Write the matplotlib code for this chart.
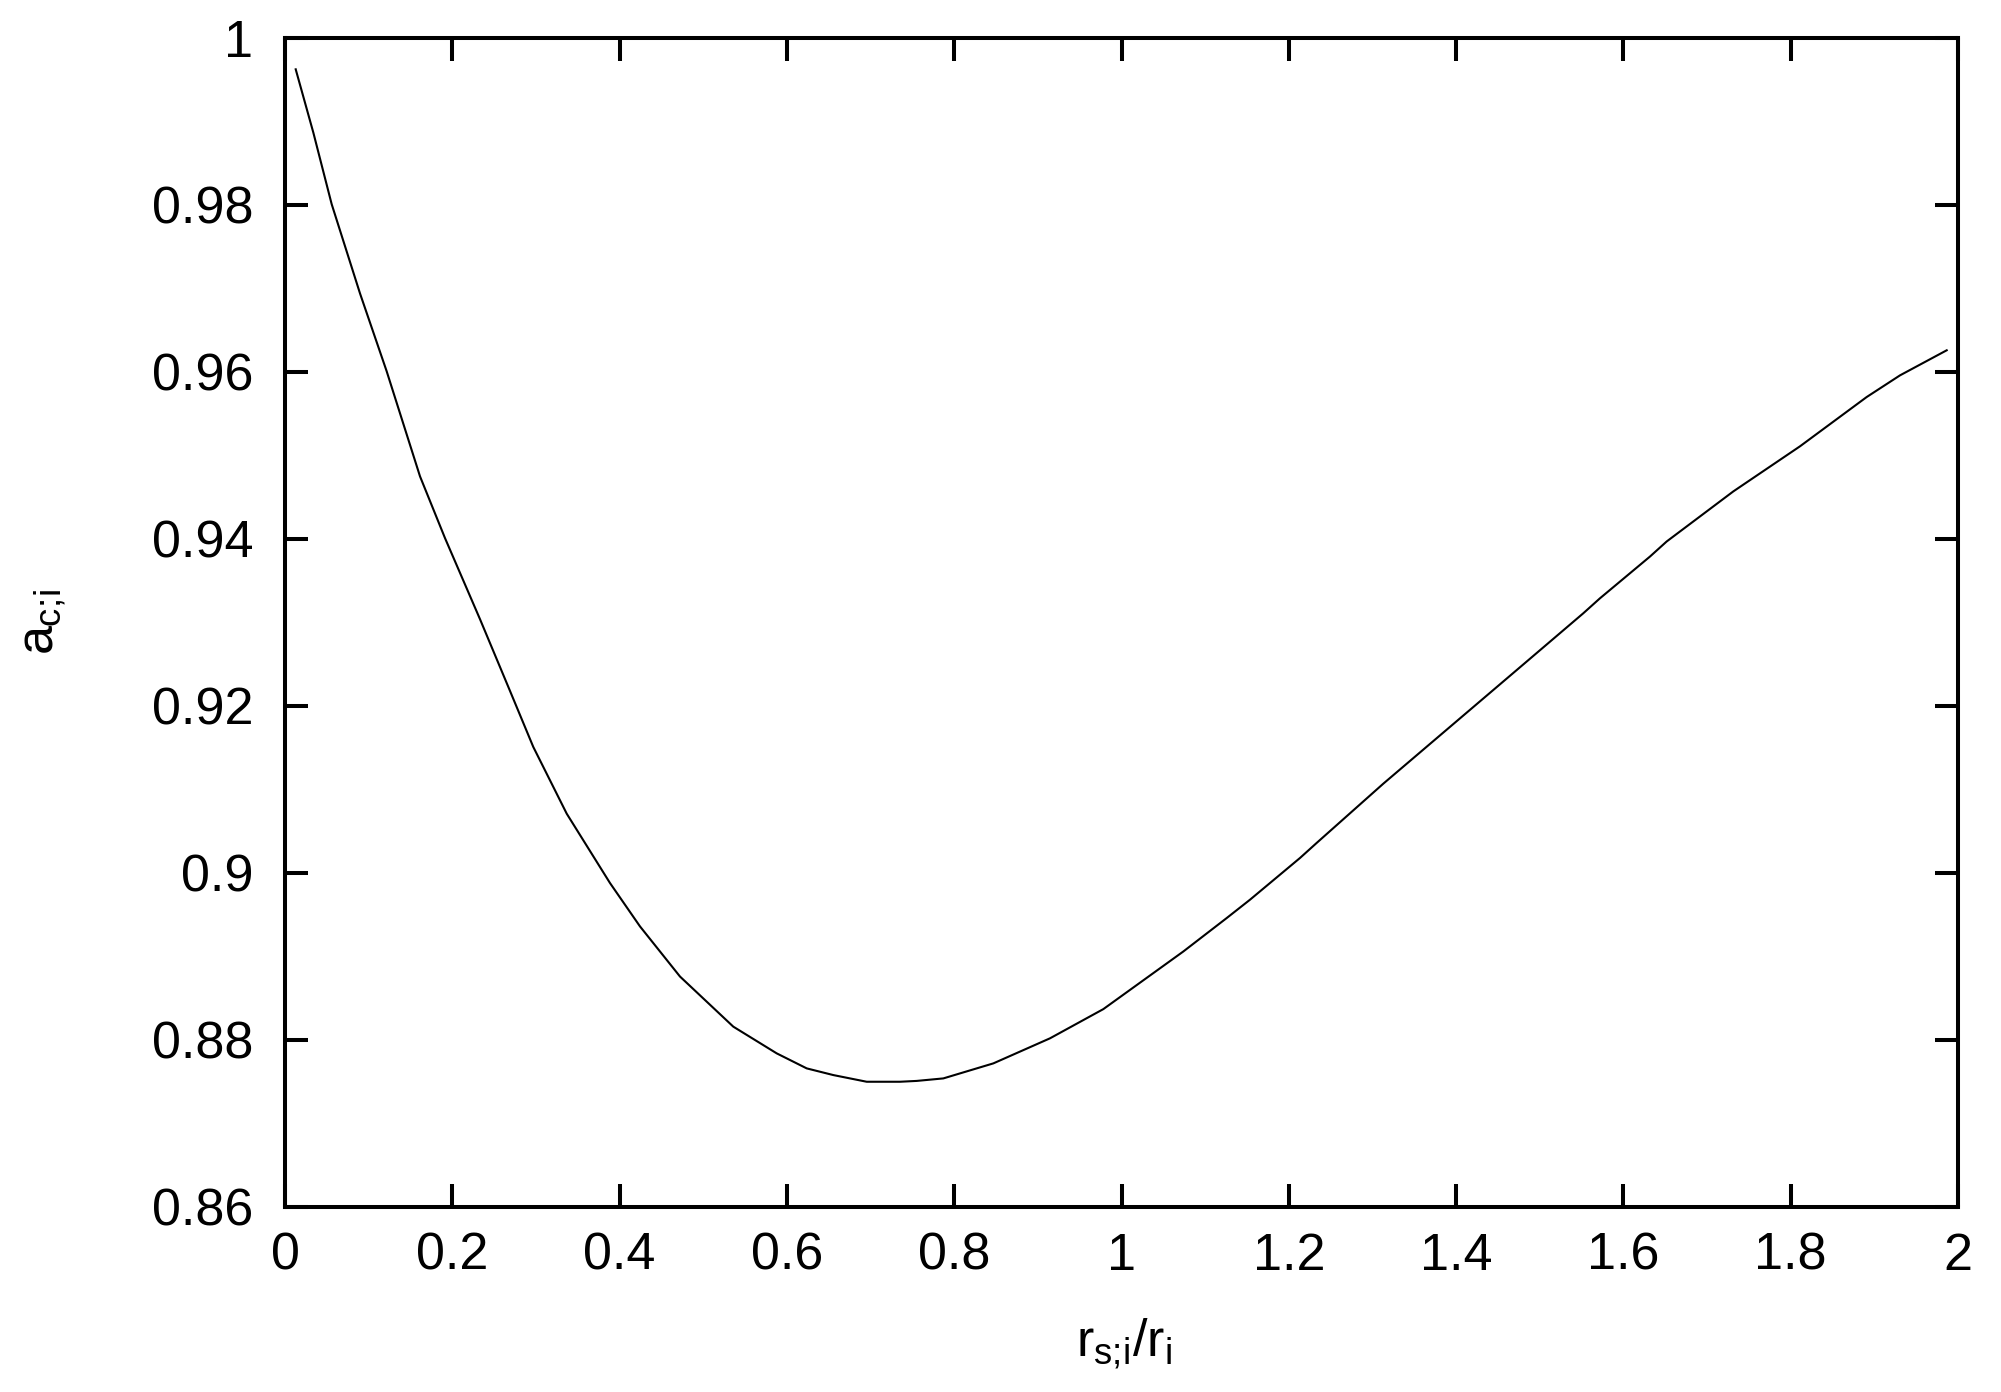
import matplotlib
matplotlib.use("Agg")
import matplotlib.pyplot as plt
from matplotlib.ticker import FuncFormatter

# Curve values
ratio = [0.0128, 0.0339, 0.0558, 0.0897, 0.1215, 0.1614, 0.1913, 0.2331, 0.269,
         0.2968, 0.3368, 0.3885, 0.4244, 0.4722, 0.5359, 0.5878, 0.6237, 0.6555,
         0.6954, 0.7352, 0.7552, 0.787, 0.8468, 0.9145, 0.9783, 1.0739, 1.1257,
         1.1536, 1.2134, 1.2333, 1.313, 1.3927, 1.4724, 1.552, 1.572, 1.6318,
         1.6517, 1.7314, 1.8111, 1.8908, 1.9307, 1.9865]
a_ci = [0.99625, 0.98866, 0.9801, 0.9694, 0.9601, 0.9475, 0.9401, 0.9304, 0.9218,
        0.9151, 0.9071, 0.8988, 0.8936, 0.8876, 0.8816, 0.8784, 0.8766, 0.8758,
        0.8750, 0.8750, 0.8751, 0.8754, 0.8772, 0.8802, 0.8837, 0.8906, 0.8946,
        0.8968, 0.9018, 0.9036, 0.9107, 0.9175, 0.9243, 0.9311, 0.9329, 0.9379,
        0.9397, 0.9457, 0.9511, 0.9570, 0.9596, 0.9626]

x_ticks = [0, 0.2, 0.4, 0.6, 0.8, 1, 1.2, 1.4, 1.6, 1.8, 2]
y_ticks = [0.86, 0.88, 0.9, 0.92, 0.94, 0.96, 0.98, 1]

plt.rcParams['font.family'] = ['Liberation Sans', 'DejaVu Sans']
plt.rcParams['mathtext.fontset'] = 'custom'
plt.rcParams['mathtext.rm'] = 'Liberation Sans'
plt.rcParams['mathtext.it'] = 'Liberation Sans'

fig = plt.figure(figsize=(20.01, 13.92), dpi=100)
ax = fig.add_axes([285 / 2001, 1 - 1207 / 1392, 1673 / 2001, 1169 / 1392])

ax.plot(ratio, a_ci, color='black', linewidth=1.5)

ax.set_xlim(0, 2)
ax.set_ylim(0.86, 1)
ax.set_xticks(x_ticks)
ax.set_yticks(y_ticks)
fmt = FuncFormatter(lambda v, p: '%g' % round(v, 4))
ax.xaxis.set_major_formatter(fmt)
ax.yaxis.set_major_formatter(fmt)

for s in ax.spines.values():
    s.set_linewidth(2.9)
ax.tick_params(direction='in', top=True, right=True, length=16.5, width=2.9,
               labelsize=37.5, colors='black')
ax.tick_params(axis='x', pad=18)
ax.tick_params(axis='y', pad=23)

# axis labels placed like the gnuplot original
fig.text(43 / 2001, 1 - 622 / 1392, r'$a_{c;\!i}$', rotation=90,
         ha='center', va='center', fontsize=37.5)
fig.text(1124 / 2001, 1 - 1344 / 1392, r'$r_{s;\!i}/r_i$',
         ha='center', va='center', fontsize=37.5)

fig.savefig('out.png', dpi=100, facecolor='white')
